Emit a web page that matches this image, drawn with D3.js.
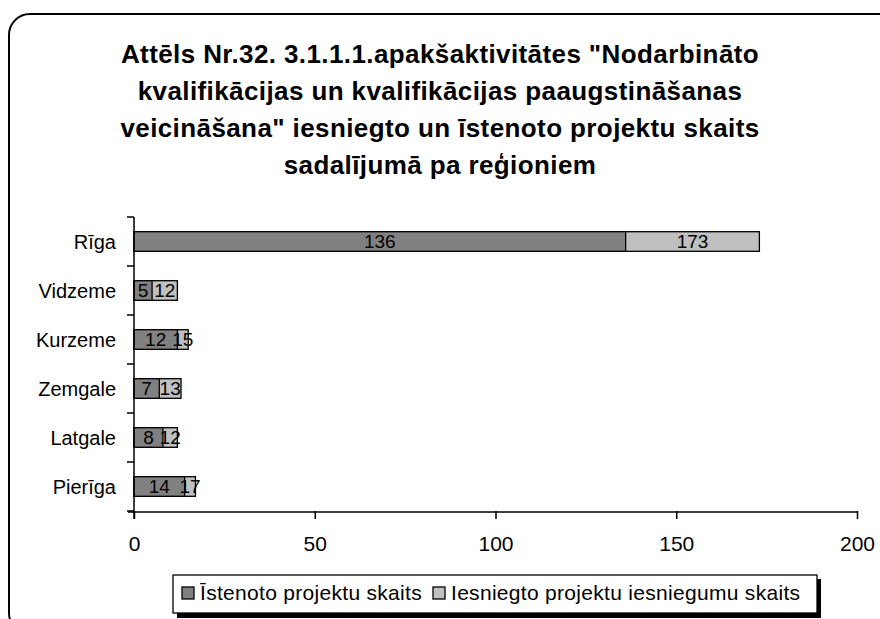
<!DOCTYPE html>
<html><head><meta charset="utf-8">
<script src="https://cdn.jsdelivr.net/npm/d3@7"></script>
<style>body{margin:0;background:#fff}svg{display:block}</style>
</head><body>
<svg id="c" width="880" height="619"></svg>
<script>
const titleLines = [
  "Attēls Nr.32. 3.1.1.1.apakšaktivitātes \"Nodarbināto",
  "kvalifikācijas un kvalifikācijas paaugstināšanas",
  "veicināšana\" iesniegto un īstenoto projektu skaits",
  "sadalījumā pa reģioniem"
];
const regions = ["Rīga", "Vidzeme", "Kurzeme", "Zemgale", "Latgale", "Pierīga"];
const implemented = [136, 5, 12, 7, 8, 14];
const submitted = [173, 12, 15, 13, 12, 17];
const seriesNames = ["Īstenoto projektu skaits", "Iesniegto projektu iesniegumu skaits"];
const xTicks = [0, 50, 100, 150, 200];
const colors = ["#808080", "#c0c0c0"];

const svg = d3.select("#c");
const font = "'Liberation Sans', Arial, sans-serif";

// frame
svg.append("rect").attr("x", 9).attr("y", 14).attr("width", 900).attr("height", 620)
  .attr("rx", 21).attr("ry", 21).attr("fill", "#fff").attr("stroke", "#000").attr("stroke-width", 2);

// title
const title = svg.append("text").attr("font-family", font).attr("font-weight", "bold")
  .attr("font-size", 26).attr("letter-spacing", 0.4).attr("text-anchor", "middle");
titleLines.forEach((t, i) => {
  title.append("tspan").attr("x", 440).attr("y", 63 + i * 37).text(t);
});

const x = d3.scaleLinear().domain([0, 200]).range([134, 857]);
const y = d3.scaleBand().domain(regions).range([217, 511]).paddingInner(0.6).paddingOuter(0.3);

const data = regions.map((r, i) => ({ r, a: implemented[i], b: submitted[i] }));

// light bars (behind)
svg.append("g").selectAll("rect").data(data).join("rect")
  .attr("x", x(0)).attr("y", d => y(d.r)).attr("width", d => x(d.b) - x(0)).attr("height", y.bandwidth())
  .attr("fill", colors[1]).attr("stroke", "#000").attr("stroke-width", 1.3);
// dark bars
svg.append("g").selectAll("rect").data(data).join("rect")
  .attr("x", x(0)).attr("y", d => y(d.r)).attr("width", d => x(d.a) - x(0)).attr("height", y.bandwidth())
  .attr("fill", colors[0]).attr("stroke", "#000").attr("stroke-width", 1.3);

// labels
const lab = svg.append("g").attr("font-family", font).attr("font-size", 19).attr("text-anchor", "middle");
lab.selectAll("text.a").data(data).join("text").attr("class", "a")
  .attr("x", d => (x(0) + x(d.a)) / 2).attr("y", d => y(d.r) + y.bandwidth() / 2 + 6.5).text(d => d.a);
lab.selectAll("text.b").data(data).join("text").attr("class", "b")
  .attr("x", d => (x(d.a) + x(d.b)) / 2).attr("y", d => y(d.r) + y.bandwidth() / 2 + 6.5).text(d => d.b);

// x axis
const xa = svg.append("g").attr("transform", "translate(0,512)")
  .call(d3.axisBottom(x).tickValues(xTicks).tickSize(7).tickPadding(17).tickSizeOuter(0));
xa.select(".domain").attr("stroke-width", 1.5).attr("d", `M${x(0)-6},0H${x(200)}`);
xa.selectAll(".tick line").attr("stroke-width", 1.5).attr("y1", -1);
xa.selectAll(".tick text").attr("font-family", font).attr("font-size", 21).attr("fill", "#000");

// y axis
const yg = svg.append("g");
yg.append("line").attr("x1", x(0)).attr("x2", x(0)).attr("y1", 217).attr("y2", 519).attr("stroke", "#000").attr("stroke-width", 1.5);
const bounds = d3.range(regions.length + 1).map(i => 217 + i * y.step());
yg.selectAll("line.t").data(bounds).join("line").attr("class", "t")
  .attr("x1", x(0) - 7).attr("x2", x(0)).attr("y1", d => d).attr("y2", d => d).attr("stroke", "#000").attr("stroke-width", 1.5);
yg.selectAll("text").data(regions).join("text")
  .attr("x", 116).attr("y", d => y(d) + y.bandwidth() / 2 + 7)
  .attr("text-anchor", "end").attr("font-family", font).attr("font-size", 20).text(d => d);

// legend
const lg = svg.append("g");
lg.append("rect").attr("x", 177).attr("y", 579).attr("width", 644).attr("height", 39).attr("fill", "#000");
lg.append("rect").attr("x", 173).attr("y", 575).attr("width", 644).attr("height", 38).attr("fill", "#fff").attr("stroke", "#000").attr("stroke-width", 1.3);
const items = [{ n: seriesNames[0], c: colors[0], x: 182 }, { n: seriesNames[1], c: colors[1], x: 433 }];
items.forEach(it => {
  lg.append("rect").attr("x", it.x).attr("y", 587).attr("width", 12).attr("height", 12).attr("fill", it.c).attr("stroke", "#000").attr("stroke-width", 1.3);
  lg.append("text").attr("x", it.x + 18).attr("y", 600).attr("font-family", font).attr("font-size", 21)
    .attr("letter-spacing", 0.3).text(it.n);
});
</script>
</body></html>
